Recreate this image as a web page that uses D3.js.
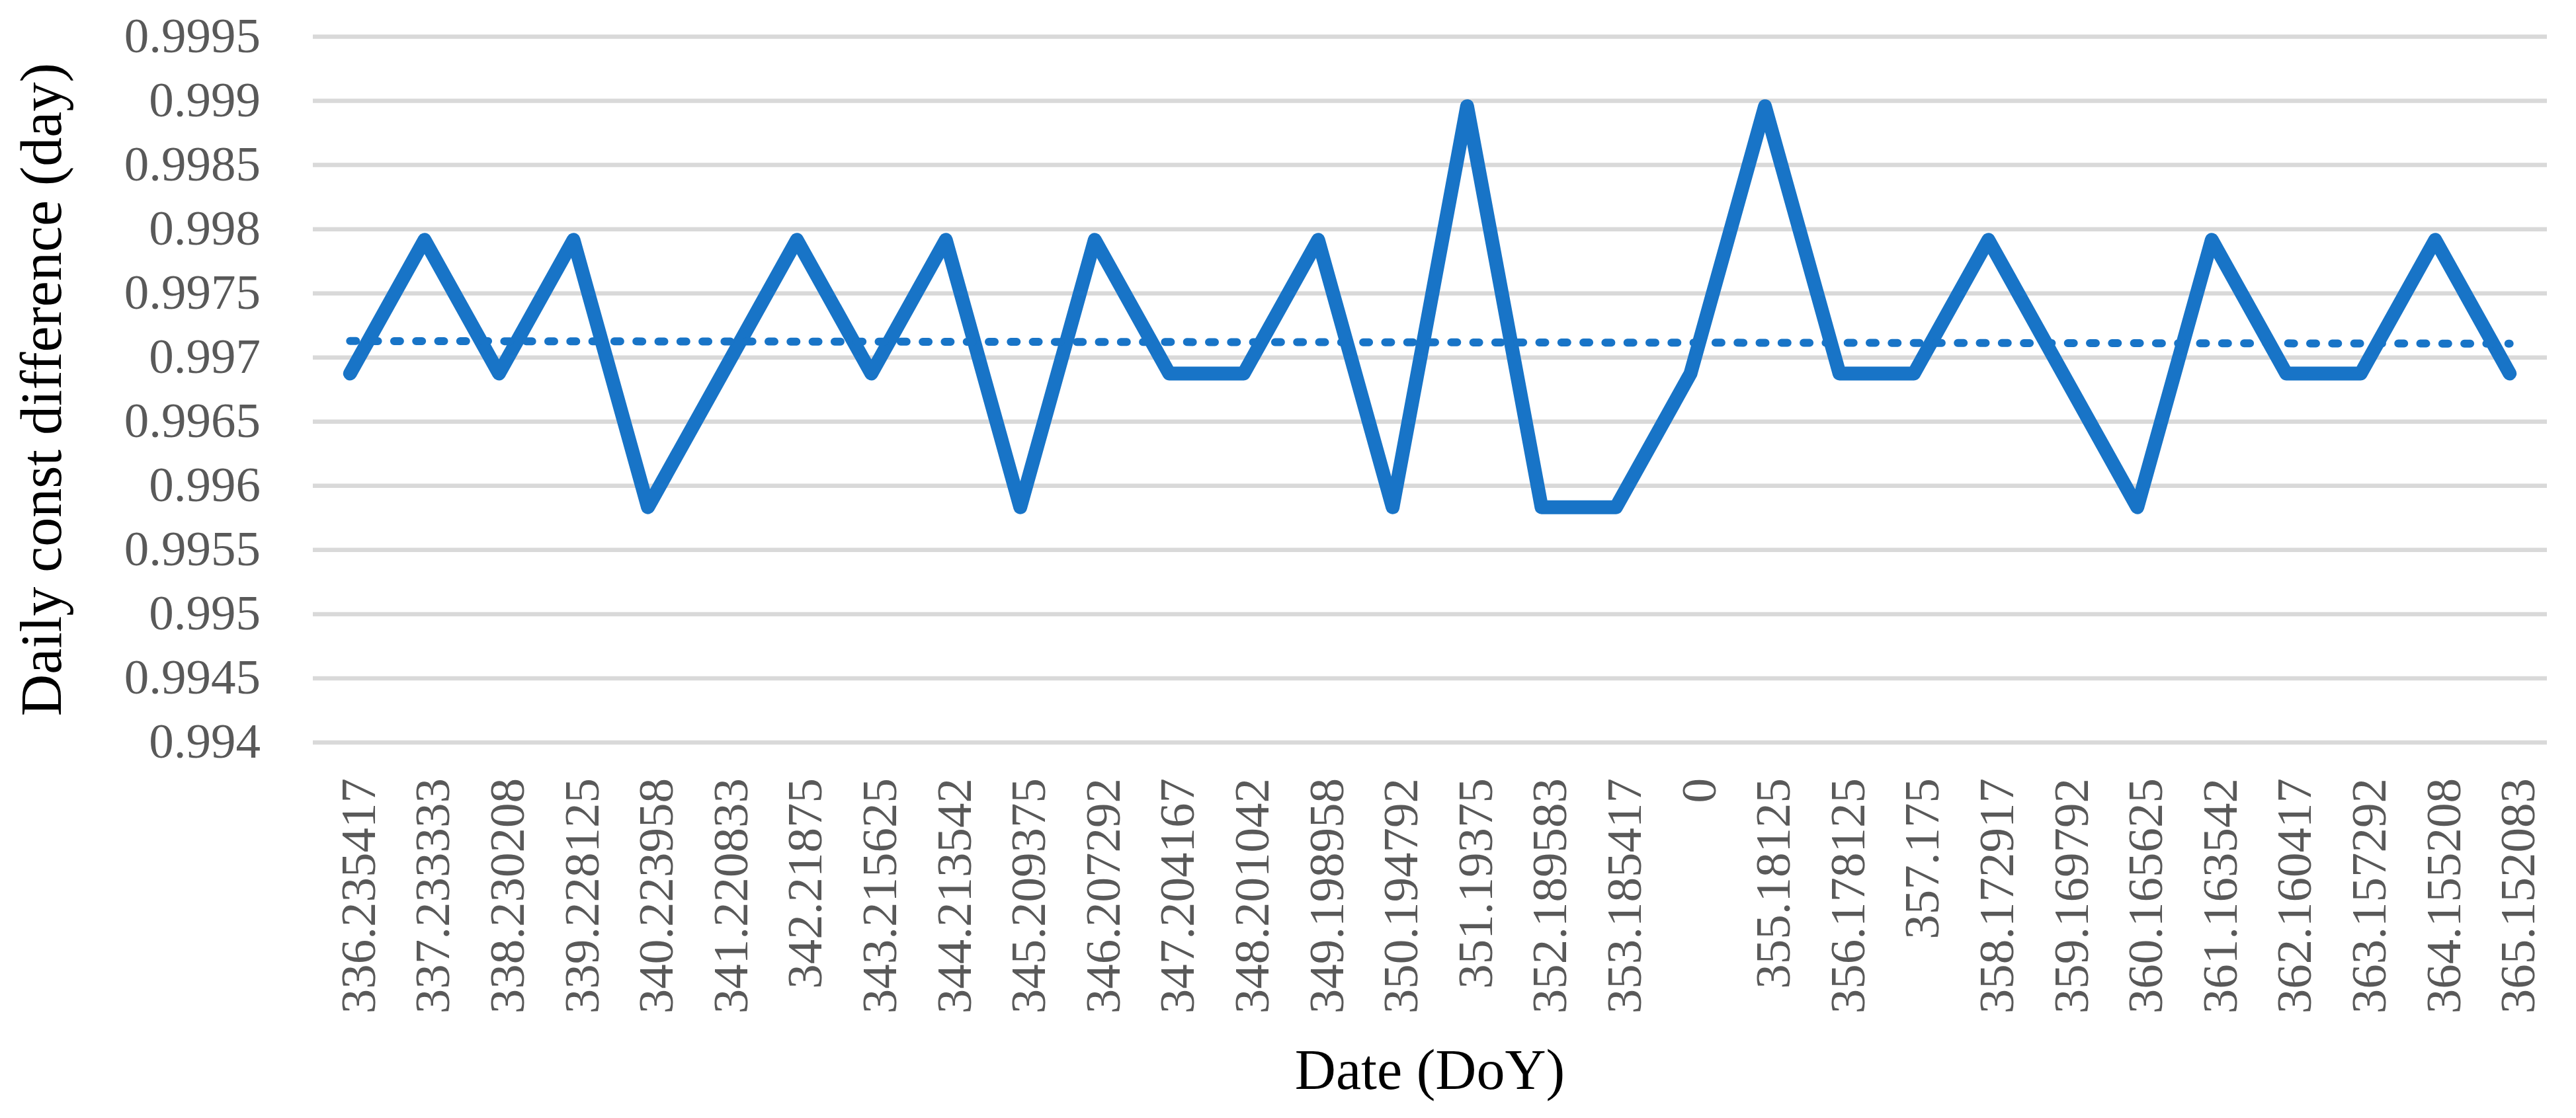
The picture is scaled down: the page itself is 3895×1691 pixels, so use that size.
<!DOCTYPE html>
<html>
<head>
<meta charset="utf-8">
<script src="https://cdn.jsdelivr.net/npm/d3@7"></script>
<style>
  html, body { margin: 0; padding: 0; background: #ffffff; }
  svg { display: block; }
</style>
</head>
<body>
<div id="chart"></div>
<script>
// ---- Data ----
const categories = ["336.235417","337.233333","338.230208","339.228125","340.223958","341.220833","342.21875","343.215625","344.213542","345.209375","346.207292","347.204167","348.201042","349.198958","350.194792","351.19375","352.189583","353.185417","0","355.18125","356.178125","357.175","358.172917","359.169792","360.165625","361.163542","362.160417","363.157292","364.155208","365.152083"];
const values = [0.996875,0.997917,0.996875,0.997917,0.995833,0.996875,0.997917,0.996875,0.997917,0.995833,0.997917,0.996875,0.996875,0.997917,0.995833,0.998958,0.995833,0.995833,0.996875,0.998958,0.996875,0.996875,0.997917,0.996875,0.995833,0.997917,0.996875,0.996875,0.997917,0.996875];
const yTicks = [0.994,0.9945,0.995,0.9955,0.996,0.9965,0.997,0.9975,0.998,0.9985,0.999,0.9995];
const yTickLabels = ["0.994","0.9945","0.995","0.9955","0.996","0.9965","0.997","0.9975","0.998","0.9985","0.999","0.9995"];
const xTitle = "Date (DoY)";
const yTitle = "Daily const difference (day)";

// ---- Layout ----
const W = 3895, H = 1691;
const plot = { left: 473, right: 3851, top: 55.5, bottom: 1123 };
const lineColor = "#1874c7";
const gridColor = "#d9d9d9";
const tickColor = "#595959";
const serif = "'Liberation Serif', 'Times New Roman', serif";

const svg = d3.select("#chart").append("svg")
  .attr("width", W).attr("height", H)
  .attr("viewBox", `0 0 ${W} ${H}`);

svg.append("rect").attr("width", W).attr("height", H).attr("fill", "#fff");

const x = d3.scalePoint()
  .domain(d3.range(categories.length))
  .range([plot.left, plot.right])
  .padding(0.5);

const y = d3.scaleLinear()
  .domain([0.994, 0.9995])
  .range([plot.bottom, plot.top]);

// Gridlines
svg.append("g").selectAll("line").data(yTicks).join("line")
  .attr("x1", plot.left).attr("x2", plot.right)
  .attr("y1", d => y(d)).attr("y2", d => y(d))
  .attr("stroke", gridColor).attr("stroke-width", 6.5);

// Y axis labels
const yAxis = d3.axisLeft(y).tickValues(yTicks)
  .tickFormat((d, i) => yTickLabels[i]).tickSize(0).tickPadding(0);
const gy = svg.append("g").attr("transform", `translate(394,0)`).call(yAxis);
gy.select(".domain").remove();
gy.selectAll("text")
  .attr("font-family", serif).attr("font-size", 75)
  .attr("fill", tickColor).attr("dy", "0.3em");

// X axis labels
const xAxis = d3.axisBottom(x).tickFormat(i => categories[i]).tickSize(0).tickPadding(0);
const gx = svg.append("g").attr("transform", `translate(0,${plot.bottom})`).call(xAxis);
gx.select(".domain").remove();
gx.selectAll("text")
  .attr("font-family", serif).attr("font-size", 75)
  .attr("fill", tickColor)
  .attr("text-anchor", "end")
  .attr("dy", null).attr("y", null)
  .attr("transform", "translate(37,54) rotate(-90)");

// Data line
const line = d3.line().x((d, i) => x(i)).y(d => y(d));
svg.append("path").datum(values)
  .attr("d", line)
  .attr("fill", "none")
  .attr("stroke", lineColor)
  .attr("stroke-width", 21)
  .attr("stroke-linejoin", "round")
  .attr("stroke-linecap", "round");

// Linear trendline (least squares over category index)
const n = values.length;
const idx = d3.range(n);
const mx = d3.mean(idx), my = d3.mean(values);
const slope = d3.sum(idx, i => (i - mx) * (values[i] - my)) / d3.sum(idx, i => (i - mx) * (i - mx));
const icpt = my - slope * mx;
const trend = [0, n - 1].map(i => [i, icpt + slope * i]);
svg.append("path").datum(trend)
  .attr("d", d3.line().x(d => x(d[0])).y(d => y(d[1])))
  .attr("fill", "none")
  .attr("stroke", lineColor)
  .attr("stroke-width", 12)
  .attr("stroke-linecap", "round")
  .attr("stroke-dasharray", "9 24.3");

// Axis titles
svg.append("text")
  .attr("x", (plot.left + plot.right) / 2).attr("y", 1647)
  .attr("text-anchor", "middle")
  .attr("font-family", serif).attr("font-size", 86)
  .attr("fill", "#000").text(xTitle);

svg.append("text")
  .attr("transform", `translate(92,${(plot.top + plot.bottom) / 2}) rotate(-90)`)
  .attr("text-anchor", "middle")
  .attr("font-family", serif).attr("font-size", 88)
  .attr("fill", "#000").text(yTitle);
</script>
</body>
</html>
